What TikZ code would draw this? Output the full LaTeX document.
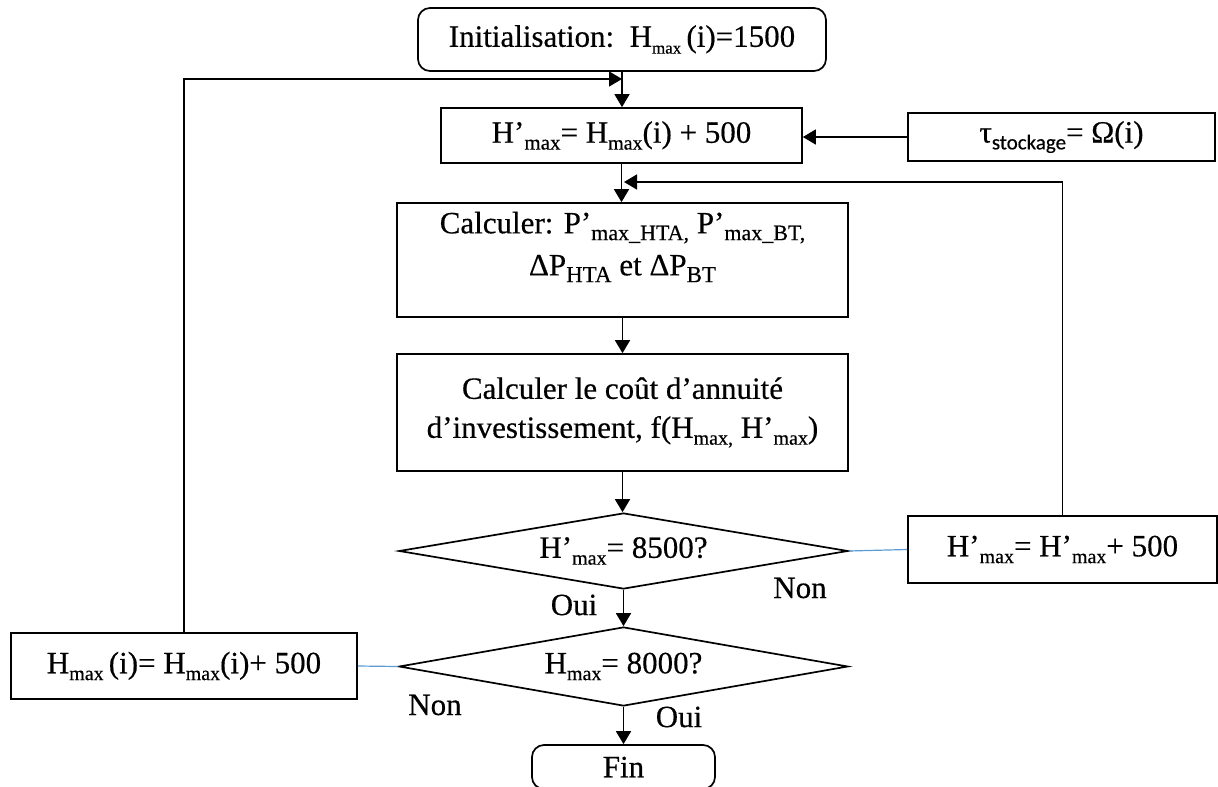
\documentclass[tikz,border=0pt]{standalone}
\usepackage{fontspec}
\setmainfont{Liberation Serif}[FakeBold=0.4]
\newfontfamily\calib{Carlito}[FakeBold=0.4]
\usetikzlibrary{shapes.geometric,arrows.meta}
\definecolor{linkblue}{RGB}{91,155,213}
\newcommand\lo[2][20]{\raisebox{-0.22em}{\fontsize{#1}{#1}\selectfont #2}}
\begin{document}
\begin{tikzpicture}[x=1pt,y=-1pt,
  every node/.style={font=\fontsize{31}{39}\selectfont},
  proc/.style={draw, line width=1.7pt, inner sep=0pt, align=center},
  term/.style={proc, rounded corners=12pt},
  cond/.style={draw, diamond, aspect=5.9, line width=1.7pt, inner sep=0pt},
  flow/.style={line width=1.6pt, -{Triangle[length=13pt,width=15pt]}},
  link/.style={line width=1.2pt, draw=linkblue},
  lab/.style={inner sep=0pt}]
\useasboundingbox (0,0) rectangle (1218,787);
\clip (0,0) rectangle (1218,787);

\node[term, minimum width=408pt, minimum height=63pt] (init) at (622,39.5)
  {Initialisation:~~H\lo[17]{max}\,(i)=1500};
\node[proc, minimum width=361pt, minimum height=55pt] (hmx) at (621.5,135.5)
  {H’\lo[21]{max}= H\lo{max}(i) + 500};
\node[proc, minimum width=307pt, minimum height=48pt] (tau) at (1061.5,137)
  {τ\lo[21]{\calib stockage}= Ω(i)};
\node[proc, minimum width=451pt, minimum height=114pt] (calc) at (622.5,260) {};
\node[lab, align=center] (calctxt) at (622.5,247)
  {Calculer: P’\lo[22]{max\_HTA,} P’\lo[22]{max\_BT,}\\[3pt] ΔP\lo[23]{HTA} et ΔP\lo[23]{BT}};
\node[proc, minimum width=451pt, minimum height=117pt] (cout) at (622.5,412.5)
  {Calculer le coût d’annuité\\ d’investissement, f(H\lo{max,} H’\lo{max})};
\node[cond, minimum width=449pt, minimum height=76pt] (d1) at (623.5,551)
  {H’\lo{max}= 8500?};
\node[cond, minimum width=449pt, minimum height=79pt] (d2) at (623.5,666.5)
  {H\lo{max}= 8000?};
\node[term, minimum width=183pt, minimum height=44pt] (fin) at (623.5,767) {Fin};
\node[proc, minimum width=309pt, minimum height=67pt] (hp) at (1062.5,549.5)
  {H’\lo{max}= H’\lo{max}+ 500};
\node[proc, minimum width=346pt, minimum height=66pt] (hl) at (184,666)
  {H\lo{max}\,(i)= H\lo{max}(i)+ 500};

\node[lab] (oui1) at (574,605) {Oui};
\node[lab] (non1) at (800,588) {Non};
\node[lab] (non2) at (435,705) {Non};
\node[lab] (oui2) at (679,717) {Oui};

\coordinate (j1) at (622,79);
\coordinate (j2) at (624,182);

\draw[flow] (init.south) -- (init.south |- hmx.north);
\draw[flow] (hl.north) |- (j1);
\draw[flow] (tau.west) -- (tau.west -| hmx.east);
\draw[flow] (hmx.south) -- (hmx.south |- calc.north);
\draw[flow] (hp.north) |- (j2);
\draw[flow] (calc.south) -- (calc.south |- cout.north);
\draw[flow] (cout.south) -- (cout.south |- d1.north);
\draw[flow] (d1.south) -- (d2.north);
\draw[flow] (d2.south) -- (d2.south |- fin.north);
\draw[link] (d1.east) -- (hp.west);
\draw[link] (d2.west) -- (hl.east);
\end{tikzpicture}
\end{document}
